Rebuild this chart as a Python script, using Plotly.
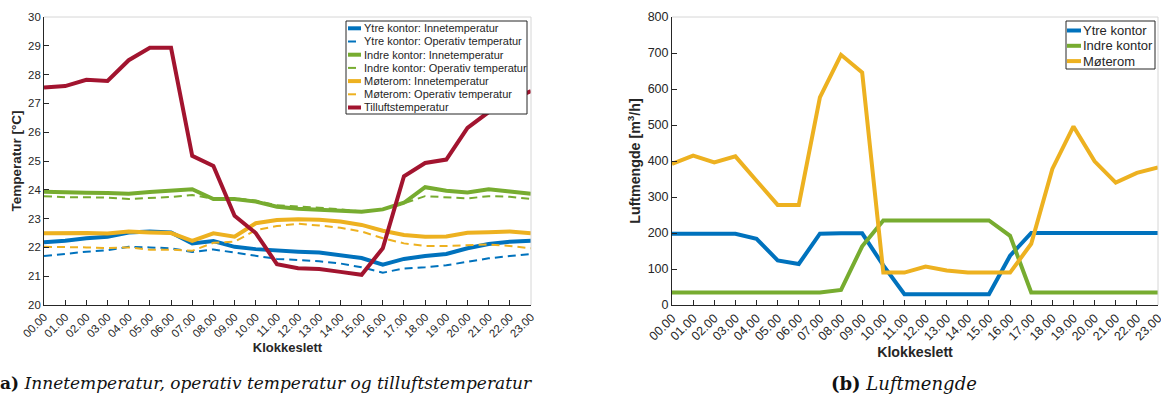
import plotly.graph_objects as go

# ---- data -------------------------------------------------------------
hours = list(range(24))
tick_labels = [f"{h:02d}.00" for h in hours]

ytre_inne = [22.18, 22.23, 22.32, 22.37, 22.52, 22.55, 22.52, 22.14, 22.22, 22.02, 21.94, 21.88,
             21.85, 21.82, 21.74, 21.63, 21.40, 21.60, 21.70, 21.77, 21.97, 22.12, 22.20, 22.23]
ytre_oper = [21.70, 21.78, 21.85, 21.90, 22.02, 22.00, 21.97, 21.84, 21.93, 21.82, 21.71, 21.60,
             21.56, 21.52, 21.44, 21.31, 21.12, 21.27, 21.31, 21.38, 21.50, 21.62, 21.70, 21.77]
indre_inne = [23.93, 23.90, 23.90, 23.89, 23.86, 23.92, 23.96, 24.02, 23.68, 23.68, 23.59, 23.41,
              23.34, 23.31, 23.28, 23.24, 23.32, 23.55, 24.09, 23.97, 23.91, 24.02, 23.94, 23.86]
indre_oper = [23.78, 23.74, 23.74, 23.73, 23.68, 23.72, 23.75, 23.82, 23.69, 23.70, 23.63, 23.46,
              23.43, 23.38, 23.32, 23.25, 23.32, 23.53, 23.78, 23.74, 23.70, 23.78, 23.76, 23.68]
mote_inne = [22.49, 22.50, 22.50, 22.48, 22.55, 22.52, 22.50, 22.23, 22.49, 22.37, 22.84, 22.95,
             22.98, 22.96, 22.90, 22.78, 22.58, 22.43, 22.37, 22.38, 22.51, 22.53, 22.55, 22.49]
mote_oper = [22.02, 22.02, 22.00, 21.98, 22.00, 21.92, 21.92, 21.88, 22.16, 22.20, 22.60, 22.74,
             22.82, 22.76, 22.68, 22.55, 22.32, 22.14, 22.05, 22.05, 22.08, 22.10, 22.05, 21.97]
tilluft = [27.55, 27.60, 27.82, 27.78, 28.50, 28.93, 28.93, 25.18, 24.83, 23.10, 22.50, 21.42,
           21.28, 21.25, 21.15, 21.05, 21.97, 24.47, 24.93, 25.05, 26.15, 26.70, 27.10, 27.43]

luft_ytre = [198, 198, 198, 198, 184, 124, 114, 198, 199, 199, 110, 30,
             30, 30, 30, 30, 137, 200, 200, 200, 200, 200, 200, 200]
luft_indre = [35, 35, 35, 35, 35, 35, 35, 35, 42, 163, 235, 235,
              235, 235, 235, 235, 192, 35, 35, 35, 35, 35, 35, 35]
luft_mote = [392, 415, 396, 413, 345, 278, 278, 577, 695, 646, 90, 90,
             107, 96, 90, 90, 90, 170, 378, 496, 399, 340, 367, 382]

BLUE, GREEN, YELLOW, RED = "#0072BD", "#77AC30", "#EDB120", "#A2142F"
INK = "#262626"
FONT = "Liberation Sans"
W, H = 1161, 396

left_series = [
    ("Ytre kontor: Innetemperatur", ytre_inne, BLUE, "solid"),
    ("Ytre kontor: Operativ temperatur", ytre_oper, BLUE, "dash"),
    ("Indre kontor: Innetemperatur", indre_inne, GREEN, "solid"),
    ("Indre kontor: Operativ temperatur", indre_oper, GREEN, "dash"),
    ("Møterom: Innetemperatur", mote_inne, YELLOW, "solid"),
    ("Møterom: Operativ temperatur", mote_oper, YELLOW, "dash"),
    ("Tilluftstemperatur", tilluft, RED, "solid"),
]
right_series = [
    ("Ytre kontor", luft_ytre, BLUE, "solid"),
    ("Indre kontor", luft_indre, GREEN, "solid"),
    ("Møterom", luft_mote, YELLOW, "solid"),
]


def px(x):
    return x / W


def py(y):
    return 1 - y / H


fig = go.Figure()

for name, vals, col, style in left_series:
    solid = style == "solid"
    fig.add_trace(go.Scatter(
        x=hours, y=vals, name=name, mode="lines", xaxis="x", yaxis="y",
        line=dict(color=col, width=4 if solid else 2, dash="solid" if solid else "8px,5px"),
        showlegend=False))

for name, vals, col, style in right_series:
    fig.add_trace(go.Scatter(
        x=hours, y=vals, name=name, mode="lines", xaxis="x2", yaxis="y2",
        line=dict(color=col, width=4), showlegend=False))

axis_common = dict(showline=True, linecolor=INK, linewidth=1, ticks="inside", ticklen=5,
                   tickwidth=1, tickcolor=INK, showgrid=False, zeroline=False, automargin=False,
                   ticklabeloverflow="allow")

fig.update_layout(
    template="none",
    width=W, height=H, margin=dict(l=0, r=0, t=0, b=0, pad=0),
    paper_bgcolor="white", plot_bgcolor="white",
    font=dict(family=FONT, color=INK),
    showlegend=False,
    xaxis=dict(domain=[px(44), px(531)], range=[0, 23], tickvals=hours, ticktext=tick_labels,
               tickangle=-45, tickfont=dict(size=11.4), anchor="y",
               title=dict(text="<b>Klokkeslett</b>", font=dict(size=13), standoff=4),
               **axis_common),
    yaxis=dict(domain=[py(305), py(17)], range=[20, 30], dtick=1, tickfont=dict(size=11.4),
               anchor="x", title=dict(text="<b>Temperatur [°C]</b>", font=dict(size=13.5), standoff=3),
               **axis_common),
    xaxis2=dict(domain=[px(672), px(1158)], range=[0, 23], tickvals=hours, ticktext=tick_labels,
                tickangle=-45, tickfont=dict(size=12.5), anchor="y2",
                title=dict(text="<b>Klokkeslett</b>", font=dict(size=14.2), standoff=4),
                **axis_common),
    yaxis2=dict(domain=[py(305), py(17)], range=[0, 800], dtick=100, tickfont=dict(size=12.5),
                anchor="x2", title=dict(text="<b>Luftmengde [m<sup>3</sup>/h]</b>", font=dict(size=14.2),
                                        standoff=3),
                **axis_common),
)

shapes = []
annotations = []

# light top/right frame of each axes box
for xr, yr in (("x domain", "y domain"), ("x2 domain", "y2 domain")):
    shapes.append(dict(type="line", xref=xr, yref=yr, x0=0, x1=1, y0=1, y1=1,
                       line=dict(color="#d6d6d6", width=1)))
    shapes.append(dict(type="line", xref=xr, yref=yr, x0=1, x1=1, y0=0, y1=1,
                       line=dict(color="#d6d6d6", width=1)))


def add_legend(series, box, y0, step, sample_x, text_x, size):
    bx0, by0, bx1, by1 = box
    shapes.append(dict(type="rect", xref="paper", yref="paper", x0=px(bx0), x1=px(bx1),
                       y0=py(by1), y1=py(by0), fillcolor="white",
                       line=dict(color=INK, width=1)))
    for i, (name, _, col, style) in enumerate(series):
        yy = y0 + i * step
        solid = style == "solid"
        sx0, sx1 = sample_x
        if not solid:
            sx1 = sx0 + 8
        shapes.append(dict(type="line", xref="paper", yref="paper", x0=px(sx0), x1=px(sx1),
                           y0=py(yy), y1=py(yy), line=dict(color=col, width=4 if solid else 2)))
        annotations.append(dict(xref="paper", yref="paper", x=px(text_x), y=py(yy), text=name,
                                showarrow=False, xanchor="left", yanchor="middle",
                                font=dict(size=size, color=INK, family=FONT)))


add_legend(left_series, (346, 21, 527, 114), 28.3, 13.2, (348, 361), 361.5, 11)
add_legend(right_series, (1066, 21, 1155, 69), 30.5, 15.3, (1067, 1081), 1081, 13)

CAP = "DejaVu Serif"
annotations.append(dict(xref="paper", yref="paper", x=px(262), y=py(383),
                        text="<b>(a)</b> <i>Innetemperatur, operativ temperatur og tilluftstemperatur</i>",
                        showarrow=False, xanchor="center", yanchor="middle",
                        font=dict(size=17, family=CAP, color="#111111")))
annotations.append(dict(xref="paper", yref="paper", x=px(904), y=py(383),
                        text="<b>(b)</b> <i>Luftmengde</i>",
                        showarrow=False, xanchor="center", yanchor="middle",
                        font=dict(size=18, family=CAP, color="#111111")))

fig.update_layout(shapes=shapes, annotations=annotations)

fig.write_html("out.html")
